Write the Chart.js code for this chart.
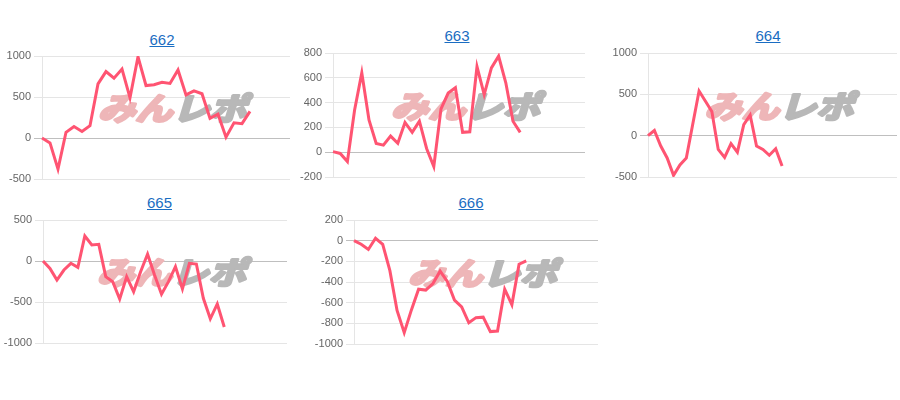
<!DOCTYPE html>
<html><head><meta charset="utf-8">
<script src="https://cdn.jsdelivr.net/npm/chart.js@4"></script>
<style>
body{margin:0;background:#fff;width:900px;height:400px;overflow:hidden;position:relative;font-family:Arial,"Liberation Sans",sans-serif}
.t{position:absolute;width:100px;text-align:center;font-size:15px;line-height:18px}
.t a{color:#1a6dc2;text-decoration:underline}
canvas{position:absolute}
</style></head><body>
<div id="root"></div>
<script>
// ---- data ----
const titles = ['662', '663', '664', '665', '666'];

const labels662 = [1,2,3,4,5,6,7,8,9,10,11,12,13,14,15,16,17,18,19,20,21,22,23,24,25,26,27,28,29,30,31,32];
const labels663 = [1,2,3,4,5,6,7,8,9,10,11,12,13,14,15,16,17,18,19,20,21,22,23,24,25,26,27,28,29,30,31,32,33,34,35,36];
const labels664 = [1,2,3,4,5,6,7,8,9,10,11,12,13,14,15,16,17,18,19,20,21,22,23,24,25,26,27,28,29,30,31,32,33,34,35,36,37,38,39,40];
const labels665 = [1,2,3,4,5,6,7,8,9,10,11,12,13,14,15,16,17,18,19,20,21,22,23,24,25,26,27,28,29,30,31,32,33,34,35,36];
const labels666 = [1,2,3,4,5,6,7,8,9,10,11,12,13,14,15,16,17,18,19,20,21,22,23,24,25,26,27,28,29,30,31,32,33,34,35];

const values662 = [0, -60, -380, 70, 140, 80, 150, 660, 810, 730, 840, 490, 990, 640, 650, 680, 665, 830, 525, 575, 540, 240, 290, 10, 185, 175, 325];
const values663 = [5, -10, -75, 340, 640, 260, 70, 57, 130, 72, 240, 160, 250, 30, -115, 350, 477, 520, 160, 165, 690, 464, 680, 775, 560, 250, 160];
const values664 = [0, 62, -125, -270, -480, -354, -270, 135, 540, 417, 292, -167, -262, -96, -200, 133, 250, -125, -167, -237, -158, -367];
const values665 = [0, -90, -232, -110, -28, -77, 305, 195, 203, -191, -252, -465, -191, -374, -130, 85, -171, -405, -252, -69, -341, -28, -37, -455, -705, -524, -805];
const values666 = [0, -35, -85, 23, -35, -290, -675, -890, -670, -470, -478, -415, -295, -395, -575, -640, -795, -745, -740, -880, -875, -470, -620, -228, -195];

const yMin = [-500, -200, -500, -1000, -1000];
const yMax = [1000, 800, 1000, 500, 200];
const yStep = [500, 200, 500, 500, 200];

// ---- layout (plot area boxes and title positions) ----
const areas = [
  {l:42, r:290, t:56, b:179, tx:162, ty:31},
  {l:333, r:585, t:53, b:177, tx:457, ty:26.5},
  {l:648, r:897, t:53, b:177, tx:768, ty:27},
  {l:43, r:287, t:220, b:343, tx:159.5, ty:194},
  {l:354, r:598, t:220, b:344, tx:471, ty:194}
];
const AXIS_W = 42, PAD = 10;

const watermark = {
  id: 'wm',
  beforeDatasetsDraw(chart) {
    const a = chart.chartArea, ctx = chart.ctx;
    const cx = (a.left + a.right) / 2 + 10, cy = (a.top + a.bottom) / 2 - 9;
    ctx.save();
    ctx.translate(cx, cy);
    ctx.transform(1.2, 0, -0.3, 1, 0, 0);
    ctx.font = 'bold 31px "Noto Sans CJK JP"';
    ctx.textBaseline = 'middle';
    ctx.textAlign = 'left';
    ctx.lineJoin = 'round';
    ctx.lineWidth = 3;
    const w1 = ctx.measureText('みん').width, w2 = ctx.measureText('レポ').width;
    const x0 = -(w1 + w2) / 2;
    ctx.fillStyle = ctx.strokeStyle = '#eeb6b8';
    ctx.strokeText('みん', x0, 0);
    ctx.fillText('みん', x0, 0);
    ctx.fillStyle = ctx.strokeStyle = '#b8b8b8';
    ctx.strokeText('レポ', x0 + w1, 0);
    ctx.fillText('レポ', x0 + w1, 0);
    ctx.restore();
  }
};

const allLabels = [labels662, labels663, labels664, labels665, labels666];
const allValues = [values662, values663, values664, values665, values666];
const root = document.getElementById('root');

titles.forEach((name, i) => {
  const A = areas[i];
  const t = document.createElement('div');
  t.className = 't';
  t.style.left = (A.tx - 50) + 'px';
  t.style.top = A.ty + 'px';
  t.innerHTML = '<a href="#">' + name + '</a>';
  root.appendChild(t);

  const cv = document.createElement('canvas');
  const w = AXIS_W + (A.r - A.l), h = (A.b - A.t) + 2 * PAD;
  cv.width = w; cv.height = h;
  cv.style.width = w + 'px'; cv.style.height = h + 'px';
  cv.style.left = (A.l - AXIS_W) + 'px';
  cv.style.top = (A.t - PAD) + 'px';
  root.appendChild(cv);

  new Chart(cv, {
    type: 'line',
    data: {
      labels: allLabels[i],
      datasets: [{
        data: allValues[i],
        borderColor: 'rgb(255, 84, 114)',
        backgroundColor: 'rgb(255, 84, 114)',
        borderWidth: 3,
        pointRadius: 0,
        tension: 0,
        fill: false
      }]
    },
    options: {
      responsive: false,
      animation: false,
      devicePixelRatio: 1,
      layout: {padding: {top: PAD, bottom: PAD, left: 0, right: 0}},
      plugins: {legend: {display: false}, tooltip: {enabled: false}},
      scales: {
        x: {display: false},
        y: {
          min: yMin[i], max: yMax[i],
          afterFit: s => { s.width = AXIS_W; },
          ticks: {
            stepSize: yStep[i],
            color: '#666',
            font: {size: 11, family: 'Arial, "Liberation Sans", sans-serif'},
            callback: v => String(v)
          },
          grid: {
            color: c => (c.tick && c.tick.value === 0) ? 'rgba(0,0,0,0.25)' : 'rgba(0,0,0,0.1)'
          },
          border: {color: 'rgba(0,0,0,0.1)'}
        }
      }
    },
    plugins: [watermark]
  });
});
</script>
</body></html>
